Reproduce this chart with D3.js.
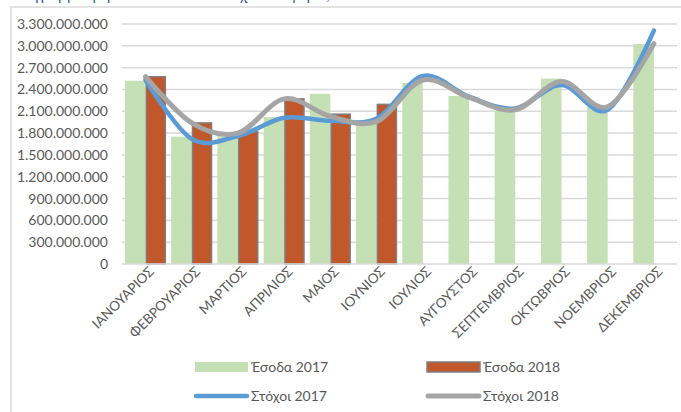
<!DOCTYPE html>
<html>
<head>
<meta charset="utf-8">
<script src="https://cdnjs.cloudflare.com/ajax/libs/d3/7.8.5/d3.min.js"></script>
<style>
  html, body { margin: 0; padding: 0; background: #fff; }
  svg { display: block; }
  text { font-family: Lato, "Open Sans", sans-serif; }
</style>
</head>
<body>
<svg id="chart" width="681" height="412"></svg>
<script>
// ---- data ----
const months = ["ΙΑΝΟΥΑΡΙΟΣ","ΦΕΒΡΟΥΑΡΙΟΣ","ΜΑΡΤΙΟΣ","ΑΠΡΙΛΙΟΣ","ΜΑΙΟΣ","ΙΟΥΝΙΟΣ",
                "ΙΟΥΛΙΟΣ","ΑΥΓΟΥΣΤΟΣ","ΣΕΠΤΕΜΒΡΙΟΣ","ΟΚΤΩΒΡΙΟΣ","ΝΟΕΜΒΡΙΟΣ","ΔΕΚΕΜΒΡΙΟΣ"];
const esoda2017 = [2520000000,1750000000,1760000000,2020000000,2340000000,1980000000,
                   2490000000,2310000000,2110000000,2550000000,2160000000,3025000000];
const esoda2018 = [2575000000,1940000000,1820000000,2270000000,2060000000,2195000000];
const stoxoi2017 = [2530000000,1720000000,1760000000,2010000000,1970000000,2000000000,
                    2585000000,2300000000,2140000000,2460000000,2120000000,3210000000];
const stoxoi2018 = [2575000000,1940000000,1800000000,2270000000,2030000000,1960000000,
                    2530000000,2290000000,2120000000,2510000000,2160000000,3030000000];
const yTicks = [0,300000000,600000000,900000000,1200000000,1500000000,1800000000,
                2100000000,2400000000,2700000000,3000000000,3300000000];
const seriesNames = ["Έσοδα 2017","Έσοδα 2018","Στόχοι 2017","Στόχοι 2018"];
const titleText = "Διάγραμμα: μηνιαία έσοδα και στόχοι ανά μήνα, 2017 – 2018";

// ---- setup ----
const svg = d3.select("#chart");
const locale = d3.formatLocale({decimal: ",", thousands: ".", grouping: [3], currency: ["", ""]});
const fmt = locale.format(",d");

const x = d3.scaleBand().domain(months).range([122.4, 677]).paddingInner(0.11).paddingOuter(0.055);
const xs = d3.scaleBand().domain(["a","b"]).range([0, x.bandwidth()]);
const y = d3.scaleLinear().domain([0, 3300000000]).range([264, 24]);

// cut-off title above the chart frame (only its lowest strokes are visible)
svg.append("text").attr("x", 10).attr("y", -0.5)
  .attr("font-size", 15).attr("fill", "#2f5597").text(titleText);

// chart frame
svg.append("path").attr("d", "M11,412 V7 H690")
  .attr("fill", "none").attr("stroke", "#d9d9d9").attr("stroke-width", 1.5);

// gridlines
svg.append("g").selectAll("line").data(yTicks.filter(d => d > 0)).join("line")
  .attr("x1", 122).attr("x2", 677)
  .attr("y1", d => y(d)).attr("y2", d => y(d))
  .attr("stroke", "#d9d9d9").attr("stroke-width", 1.5);

// y axis labels
const yAxis = d3.axisLeft(y).tickValues(yTicks).tickFormat(fmt).tickSize(0).tickPadding(0);
const gy = svg.append("g").attr("transform", "translate(108,0)").call(yAxis);
gy.select(".domain").remove();
gy.selectAll("text").attr("font-size", 14).attr("fill", "#595959")
  .attr("font-family", "Lato, 'Open Sans', sans-serif");

// bars 2017
svg.append("g").selectAll("rect").data(esoda2017).join("rect")
  .attr("x", (d, i) => x(months[i]) + xs("a"))
  .attr("width", xs.bandwidth())
  .attr("y", d => y(d))
  .attr("height", d => y(0) - y(d))
  .attr("fill", "#c5e0b4");

// bars 2018
svg.append("g").selectAll("rect").data(esoda2018).join("rect")
  .attr("x", (d, i) => x(months[i]) + xs("b") + 0.75)
  .attr("width", xs.bandwidth() - 1.5)
  .attr("y", d => y(d))
  .attr("height", d => y(0) - y(d))
  .attr("fill", "#c0582b")
  .attr("stroke", "#7f7f7f").attr("stroke-width", 1.5);

// x axis baseline
svg.append("line").attr("x1", 122).attr("x2", 677).attr("y1", y(0)).attr("y2", y(0))
  .attr("stroke", "#d9d9d9").attr("stroke-width", 1.5);

// lines
const line = d3.line()
  .x((d, i) => x(months[i]) + x.bandwidth() / 2)
  .y(d => y(d))
  .curve(d3.curveCatmullRom.alpha(0));

svg.append("path").datum(stoxoi2017).attr("d", line)
  .attr("fill", "none").attr("stroke", "#5b9bd5").attr("stroke-width", 4.5)
  .attr("stroke-linecap", "round");
svg.append("path").datum(stoxoi2018).attr("d", line)
  .attr("fill", "none").attr("stroke", "#a5a5a5").attr("stroke-width", 5)
  .attr("stroke-linecap", "round");

// x axis labels
const xAxis = d3.axisBottom(x).tickSize(0).tickPadding(0);
const gx = svg.append("g").attr("transform", "translate(0,269)").call(xAxis);
gx.select(".domain").remove();
gx.selectAll("text")
  .attr("font-size", 13.5).attr("fill", "#595959")
  .attr("font-family", "Lato, 'Open Sans', sans-serif")
  .attr("text-anchor", "end")
  .attr("dy", "0.35em")
  .attr("transform", "translate(6,0) rotate(-45)");

// legend
const legend = svg.append("g");
const lx = [195, 427];
const ly = [367, 396];
const items = [
  {name: seriesNames[0], type: "rect", fill: "#c5e0b4", stroke: "none", col: 0, row: 0},
  {name: seriesNames[1], type: "rect", fill: "#c0582b", stroke: "#7f7f7f", col: 1, row: 0},
  {name: seriesNames[2], type: "line", color: "#5b9bd5", w: 4.5, col: 0, row: 1},
  {name: seriesNames[3], type: "line", color: "#a5a5a5", w: 5, col: 1, row: 1}
];
items.forEach(it => {
  const gx0 = lx[it.col], gy0 = ly[it.row];
  if (it.type === "rect") {
    legend.append("rect").attr("x", gx0).attr("y", gy0 - 5).attr("width", 53).attr("height", 10)
      .attr("fill", it.fill).attr("stroke", it.stroke).attr("stroke-width", 1.5);
  } else {
    legend.append("line").attr("x1", gx0 + 1).attr("x2", gx0 + 52).attr("y1", gy0).attr("y2", gy0)
      .attr("stroke", it.color).attr("stroke-width", it.w).attr("stroke-linecap", "round");
  }
  legend.append("text").attr("x", gx0 + 56).attr("y", gy0).attr("dy", "0.35em")
    .attr("font-size", 14).attr("fill", "#595959").text(it.name);
});
</script>
</body>
</html>
